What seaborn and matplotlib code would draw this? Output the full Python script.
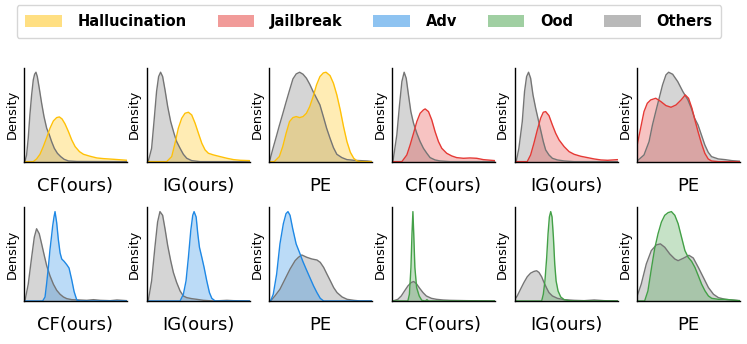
import matplotlib
matplotlib.use("Agg")
from matplotlib import pyplot as plt
from matplotlib.patches import Patch
import seaborn as sns

# score axis given as % of the plotted range, density (arbitrary units)

# Hallucination
hal_cf_x = [0, 9.1, 12.3, 15.6, 18.8, 22.1, 25.3, 28.6, 31.8, 34.4, 37.0, 39.9, 43.2, 46.4, 49.7, 53.9, 57.8, 64.3, 70.8, 77.3, 87.0, 100]
hal_cf_d = [0, 0, 8, 22, 45, 72, 100, 122, 132, 134, 128, 113, 90, 65, 45, 30, 22, 16, 11, 9, 7, 4]
hal_cf_other_x = [0, 1.0, 2.6, 4.2, 5.8, 7.5, 9.1, 10.4, 11.7, 13.0, 14.9, 17.2, 19.5, 22.1, 24.7, 26.9, 29.5, 32.5, 35.7, 39.0, 43.2, 51.3, 100]
hal_cf_other_d = [0, 0, 20, 70, 140, 200, 245, 262, 268, 255, 220, 175, 135, 100, 80, 60, 40, 25, 15, 7, 2, 0.5, 0]

hal_ig_x = [0, 19.5, 24.4, 27.6, 30.8, 34.1, 37.3, 40.6, 43.8, 47.1, 50.3, 53.6, 56.8, 60.0, 65.0, 71.4, 78.0, 84.4, 91.0, 100]
hal_ig_d = [0, 0, 15, 55, 100, 130, 145, 148, 140, 115, 85, 55, 35, 25, 20, 15, 10, 6, 4, 3]
hal_ig_other_x = [0, 1.6, 4.9, 7.5, 9.7, 11.7, 13.6, 15.6, 17.9, 20.5, 23.4, 26.6, 29.2, 32.5, 35.7, 39.0, 43.8, 52.0, 100]
hal_ig_other_d = [0, 0, 40, 130, 210, 255, 268, 255, 215, 165, 120, 85, 60, 40, 22, 10, 3, 0, 0]

hal_pe_x = [0, 4.9, 9.8, 13.1, 16.4, 19.7, 23.0, 26.2, 29.5, 32.8, 36.1, 39.3, 42.6, 45.9, 49.2, 52.5, 55.1, 59.0, 62.3, 65.6, 68.9, 72.1, 75.4, 78.7, 82.0, 85.2, 88.5, 100]
hal_pe_d = [0, 0, 15, 45, 85, 120, 132, 135, 132, 135, 145, 165, 195, 230, 255, 266, 268, 258, 235, 200, 155, 105, 60, 28, 10, 2, 0, 0]
hal_pe_other_x = [0, 0.7, 3.3, 6.6, 9.8, 13.1, 16.4, 19.7, 23.0, 26.2, 29.5, 32.8, 36.1, 39.3, 42.6, 45.9, 49.2, 52.5, 55.7, 59.0, 62.3, 65.6, 70.5, 75.4, 82.0, 88.5, 95.1, 100]
hal_pe_other_d = [3, 5, 36, 72, 108, 143, 179, 214, 248, 263, 268, 262, 250, 232, 210, 190, 170, 135, 100, 70, 42, 22, 12, 6, 4, 3, 2, 0]

# Jailbreak
jail_cf_x = [0, 9.7, 14.5, 17.7, 21.0, 24.2, 27.4, 30.6, 32.3, 35.5, 38.7, 41.9, 45.2, 48.4, 53.2, 58.1, 62.9, 69.4, 75.8, 82.3, 88.7, 100]
jail_cf_d = [0, 0, 20, 50, 85, 120, 145, 155, 158, 150, 125, 90, 60, 40, 25, 17, 12, 10, 11, 10, 6, 3]
jail_cf_other_x = [0, 1.0, 4.8, 7.4, 9.7, 11.9, 13.9, 16.1, 18.4, 21.0, 24.2, 27.4, 30.6, 33.9, 37.1, 41.9, 46.8, 56.5, 100]
jail_cf_other_d = [0, 0, 80, 170, 240, 268, 250, 200, 150, 115, 85, 60, 40, 25, 12, 5, 2, 0, 0]

jail_ig_x = [0, 12.3, 15.6, 18.8, 22.1, 25.3, 27.9, 30.2, 33.4, 36.7, 39.9, 43.2, 48.1, 52.9, 57.8, 64.3, 70.8, 77.3, 83.8, 90.3, 100]
jail_ig_d = [0, 0, 20, 55, 95, 130, 148, 150, 138, 110, 85, 65, 45, 30, 22, 16, 12, 8, 5, 4, 6]
jail_ig_other_x = [0, 1.6, 4.2, 7.5, 9.7, 11.7, 13.6, 15.6, 17.9, 20.5, 22.7, 25.3, 27.9, 30.2, 33.4, 36.7, 41.6, 48.1, 57.8, 100]
jail_ig_other_d = [0, 0, 40, 120, 210, 255, 268, 250, 200, 160, 130, 95, 60, 35, 20, 10, 5, 2, 0, 0]

jail_pe_x = [0, 3.3, 6.6, 9.8, 13.1, 18.0, 23.0, 27.9, 32.8, 37.7, 42.6, 46.6, 49.8, 53.1, 56.4, 59.0, 62.3, 65.6, 68.9, 72.1, 78.7, 100]
jail_pe_d = [50, 100, 150, 175, 185, 190, 180, 168, 163, 170, 185, 200, 190, 160, 120, 90, 55, 25, 8, 2, 0, 0]
jail_pe_other_x = [0, 6.6, 11.5, 14.8, 18.0, 21.3, 24.6, 27.9, 30.5, 34.4, 39.3, 44.3, 49.2, 52.5, 55.7, 59.0, 62.3, 65.6, 68.9, 72.1, 78.7, 85.2, 91.8, 100]
jail_pe_other_d = [2, 20, 60, 110, 150, 190, 230, 260, 268, 262, 240, 210, 185, 160, 130, 110, 80, 50, 28, 15, 8, 6, 3, 1]

# Adv
adv_cf_x = [0, 18.2, 20.5, 22.1, 23.7, 25.3, 26.9, 27.9, 29.2, 30.2, 31.8, 33.4, 35.1, 36.7, 39.0, 41.6, 43.8, 46.4, 48.7, 51.3, 54.5, 100]
adv_cf_d = [0, 0, 12, 53, 100, 153, 195, 223, 250, 266, 233, 183, 143, 125, 118, 108, 98, 63, 28, 3, 0, 0]
adv_cf_other_x = [0, 1.0, 4.2, 7.5, 10.1, 12.3, 14.9, 17.2, 19.8, 22.1, 25.3, 28.6, 31.8, 35.1, 38.3, 41.6, 46.4, 54.5, 61.0, 67.5, 74.0, 83.8, 90.3, 100]
adv_cf_other_d = [0, 0, 50, 130, 190, 215, 200, 170, 135, 105, 75, 50, 32, 20, 12, 7, 4, 3, 2, 4, 2, 1, 3, 1]

adv_ig_x = [0, 32.5, 35.7, 38.3, 40.6, 42.9, 44.8, 46.1, 48.1, 49.7, 51.3, 53.6, 55.8, 58.4, 61.0, 63.3, 66.6, 100]
adv_ig_d = [0, 0, 20, 60, 130, 210, 255, 266, 250, 200, 160, 130, 100, 60, 25, 8, 0, 0]
adv_ig_other_x = [0, 1.6, 4.9, 8.1, 10.7, 13.0, 15.6, 17.9, 20.5, 23.4, 26.0, 29.2, 32.5, 35.7, 39.0, 43.8, 48.7, 55.2, 64.9, 77.9, 84.4, 100]
adv_ig_other_d = [0, 0, 60, 160, 235, 266, 255, 215, 165, 120, 85, 55, 30, 15, 10, 7, 5, 2, 0, 2, 1, 0]

adv_pe_x = [0, 1.3, 3.9, 7.2, 10.4, 13.7, 16.3, 18.2, 20.2, 22.8, 26.1, 29.3, 32.6, 35.8, 39.1, 43.0, 46.3, 49.5, 52.8, 100]
adv_pe_d = [0, 0, 20, 80, 170, 230, 260, 266, 255, 215, 170, 145, 118, 95, 72, 45, 25, 8, 0, 0]
adv_pe_other_x = [0, 1.3, 5.5, 10.4, 15.3, 20.2, 25.1, 28.3, 31.6, 36.5, 41.4, 46.3, 49.5, 52.8, 56.0, 59.3, 62.5, 65.8, 70.7, 75.6, 82.1, 88.6, 100]
adv_pe_other_d = [0, 0, 15, 35, 65, 95, 120, 130, 137, 130, 125, 122, 115, 100, 80, 60, 40, 25, 12, 5, 2, 0, 0]

# Ood
ood_cf_x = [0, 15.5, 17.0, 18.5, 19.5, 20.4, 21.2, 22.3, 24.0, 26.5, 29.0, 32.5, 34.0, 35.5, 100]
ood_cf_d = [0, 0, 20, 100, 200, 266, 200, 100, 40, 15, 2, 0, 4, 0, 0]
ood_cf_other_x = [0, 1.0, 5.8, 9.1, 12.3, 15.6, 18.8, 21.1, 23.7, 26.9, 30.2, 33.4, 38.3, 43.2, 49.7, 56.2, 72.4, 100]
ood_cf_other_d = [0, 0, 5, 15, 30, 45, 55, 58, 52, 38, 25, 15, 8, 5, 3, 2, 1, 0]

ood_ig_x = [0, 26.3, 27.9, 29.5, 31.2, 32.5, 33.8, 35.1, 36.4, 37.7, 39.0, 40.3, 42.2, 44.8, 48.1, 52.9, 57.8, 100]
ood_ig_d = [0, 0, 20, 60, 130, 200, 250, 266, 250, 190, 110, 60, 30, 12, 4, 1, 0, 0]
ood_ig_other_x = [0, 2.6, 5.8, 9.1, 12.3, 15.6, 18.8, 21.4, 23.7, 26.3, 28.6, 31.2, 33.4, 36.7, 41.6, 48.1, 57.8, 67.5, 77.3, 87.0, 100]
ood_ig_other_d = [3, 15, 35, 55, 72, 83, 88, 90, 85, 72, 55, 38, 25, 15, 8, 4, 2, 1, 3, 1, 0]

ood_pe_x = [0, 7.2, 10.4, 13.7, 16.9, 20.2, 23.5, 26.7, 30.0, 33.2, 36.5, 39.7, 43.0, 46.3, 49.5, 52.8, 56.0, 59.3, 62.5, 65.8, 69.1, 72.3, 78.8, 85.3, 91.9, 98.4, 100]
ood_pe_d = [0, 0, 30, 95, 155, 200, 235, 255, 263, 266, 255, 230, 190, 150, 130, 118, 100, 75, 50, 30, 15, 8, 5, 5, 3, 1, 1]
ood_pe_other_x = [0, 3.9, 8.8, 13.7, 18.6, 22.5, 26.7, 31.6, 36.5, 39.7, 44.6, 50.2, 54.4, 59.3, 64.2, 69.1, 74.0, 78.8, 85.3, 91.9, 100]
ood_pe_other_d = [15, 50, 110, 150, 167, 170, 160, 140, 125, 120, 127, 136, 128, 100, 70, 40, 20, 10, 5, 3, 1]

legend_labels = ["Hallucination", "Jailbreak", "Adv", "Ood", "Others"]
colors = {"Hallucination": "#FFC107", "Jailbreak": "#E53935", "Adv": "#1E88E5",
          "Ood": "#43A047", "Others": "#757575"}

panels = [
    ("Hallucination", "CF(ours)", hal_cf_x, hal_cf_d, hal_cf_other_x, hal_cf_other_d),
    ("Hallucination", "IG(ours)", hal_ig_x, hal_ig_d, hal_ig_other_x, hal_ig_other_d),
    ("Hallucination", "PE", hal_pe_x, hal_pe_d, hal_pe_other_x, hal_pe_other_d),
    ("Jailbreak", "CF(ours)", jail_cf_x, jail_cf_d, jail_cf_other_x, jail_cf_other_d),
    ("Jailbreak", "IG(ours)", jail_ig_x, jail_ig_d, jail_ig_other_x, jail_ig_other_d),
    ("Jailbreak", "PE", jail_pe_x, jail_pe_d, jail_pe_other_x, jail_pe_other_d),
    ("Adv", "CF(ours)", adv_cf_x, adv_cf_d, adv_cf_other_x, adv_cf_other_d),
    ("Adv", "IG(ours)", adv_ig_x, adv_ig_d, adv_ig_other_x, adv_ig_other_d),
    ("Adv", "PE", adv_pe_x, adv_pe_d, adv_pe_other_x, adv_pe_other_d),
    ("Ood", "CF(ours)", ood_cf_x, ood_cf_d, ood_cf_other_x, ood_cf_other_d),
    ("Ood", "IG(ours)", ood_ig_x, ood_ig_d, ood_ig_other_x, ood_ig_other_d),
    ("Ood", "PE", ood_pe_x, ood_pe_d, ood_pe_other_x, ood_pe_other_d),
]


def draw_density(ax, x, d, color):
    sns.lineplot(x=x, y=d, color=color, linewidth=1.0, ax=ax)
    ax.fill_between(x, d, color=color, alpha=0.3, linewidth=0)


def main():
    sns.set_style("white", {"axes.edgecolor": "black", "text.color": "black",
                            "axes.labelcolor": "black"})
    plt.rcParams["font.family"] = ["DejaVu Sans"]
    plt.rcParams["axes.linewidth"] = 1.0

    fig, axes = plt.subplots(2, 6, figsize=(7.47, 3.44), dpi=100)
    fig.subplots_adjust(left=0.032, right=0.991, bottom=0.125, top=0.803,
                        wspace=0.19, hspace=0.485)

    for ax, (cat, label, x, d, ox, od) in zip(axes.flat, panels):
        draw_density(ax, ox, od, colors["Others"])
        draw_density(ax, x, d, colors[cat])
        ax.set_xlim(0, 100)
        ax.set_ylim(bottom=0)
        ax.set_xticks([])
        ax.set_yticks([])
        ax.set_xlabel(label, fontsize=13, labelpad=11)
        ax.set_ylabel("Density", fontsize=9.3)
        for spine in ax.spines.values():
            spine.set_zorder(5)
        sns.despine(ax=ax)

    handles = [Patch(facecolor=colors[k], alpha=0.5, edgecolor="none") for k in legend_labels]
    fig.legend(handles, legend_labels, loc="upper center", bbox_to_anchor=(0.494, 1.0),
               ncol=5, prop={"weight": "bold", "size": 10.5}, handlelength=2.5,
               handleheight=0.95, handletextpad=1.1, columnspacing=2.1,
               borderpad=0.6, borderaxespad=0.35, frameon=True)

    fig.savefig("out.png", dpi=100)


if __name__ == "__main__":
    main()
